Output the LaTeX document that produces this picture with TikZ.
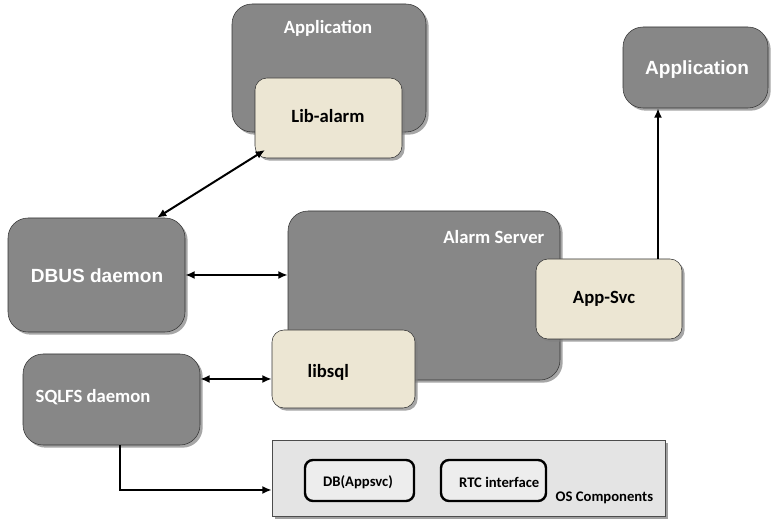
\documentclass[tikz,border=0pt]{standalone}
\usepackage{fontspec}
\setmainfont{Carlito}
\newfontfamily\arialfont{Liberation Sans}
\usetikzlibrary{positioning,arrows.meta,fit,shadows}
\definecolor{boxgray}{HTML}{878787}
\definecolor{boxcream}{HTML}{ECE6D3}
\definecolor{osgray}{HTML}{E4E4E4}
\definecolor{innergray}{HTML}{EDEDED}

\begin{document}
\begin{tikzpicture}[x=0.75pt,y=-0.75pt,every node/.style={font=\bfseries\fontsize{14}{16}\selectfont}]
      \tikzstyle{graybox}=[rounded corners=15pt,draw=black!80,fill=boxgray,inner sep=0pt,
                           drop shadow={shadow xshift=2pt,shadow yshift=-2pt,opacity=.7}];
      \tikzstyle{libbox}=[rounded corners=9pt,draw=black!80,fill=boxcream,inner sep=0pt,
                          drop shadow={shadow xshift=2pt,shadow yshift=-2pt,opacity=.7}];
      \tikzstyle{osbox}=[draw=black!70,fill=osgray,inner sep=0pt,
                         drop shadow={shadow xshift=2.5pt,shadow yshift=-2.5pt,opacity=.75}];
      \tikzstyle{part}=[rounded corners=6pt,draw=black,line width=1.8pt,fill=innergray,inner sep=0pt];
      \tikzstyle{small}=[font=\bfseries\fontsize{11}{13}\selectfont];
      \tikzstyle{arial}=[font=\arialfont\bfseries\fontsize{14.3}{16}\selectfont,text=white];
      \tikzstyle{link}=[line width=1.5pt,{Latex[length=7pt,width=6pt]}-{Latex[length=7pt,width=6pt]}];
      \tikzstyle{oneway}=[line width=1.5pt,-{Latex[length=7pt,width=6pt]}];
      \useasboundingbox (0,0) rectangle (776,530);
      % client side
      \node[graybox,fit={(232,4) (426,132)}] (app) {};
      \node[text=white] (apptext) at (328,28) {Application};
      \node[libbox,fit={(255,78) (402,158)}] (libalarm) {};
      \node (libalarmtext) at (328,116) {Lib-alarm};
      \node[graybox,fit={(623,27) (768,108)}] (app2) {};
      \node[arial] (app2text) at (697,70) {Application};
      % daemons
      \node[graybox,fit={(8,218) (185,332)}] (dbus) {};
      \node[arial] (dbustext) at (97,276) {DBUS daemon};
      \node[graybox,fit={(23,354) (200,445)}] (sqlfs) {};
      \node[text=white,anchor=west] (sqlfstext) at (31,397) {SQLFS daemon};
      % alarm server
      \node[graybox,fit={(288,211) (560,380)}] (server) {};
      \node[text=white,anchor=east] (servertext) at (549,237) {Alarm Server};
      \node[libbox,fit={(536,259) (682,339)}] (appsvc) {};
      \node (appsvctext) at (604,299) {App-Svc};
      \node[libbox,fit={(272,330) (415,408)}] (libsql) {};
      \node[anchor=west] (libsqltext) at (303,372) {libsql};
      % os components
      \node[osbox,fit={(272,440) (665,516)}] (os) {};
      \node[part,fit={(305,460) (414,501)}] (db) {};
      \node[small] (dbtext) at (358,482) {DB(Appsvc)};
      \node[part,fit={(441,460) (546,501)}] (rtc) {};
      \node[small,anchor=east] (rtctext) at (544,482) {RTC interface};
      \node[small,anchor=west] (ostext) at (551,498) {OS Components};
      % connectors
      \coordinate (libcorner) at (265,150);
      \draw[link] (libcorner) -- (dbus.north east -| 157,0);
      \draw[link] (dbus.east) -- (server.west |- dbus.east);
      \draw[link] (sqlfs.east |- 0,379) -- (libsql.west |- 0,379);
      \draw[oneway] (sqlfs.south -| 120,0) |- (os.west |- 0,490);
      \draw[oneway] (appsvc.north -| 658,0) -- (app2.south -| 658,0);
\end{tikzpicture}
\end{document}
